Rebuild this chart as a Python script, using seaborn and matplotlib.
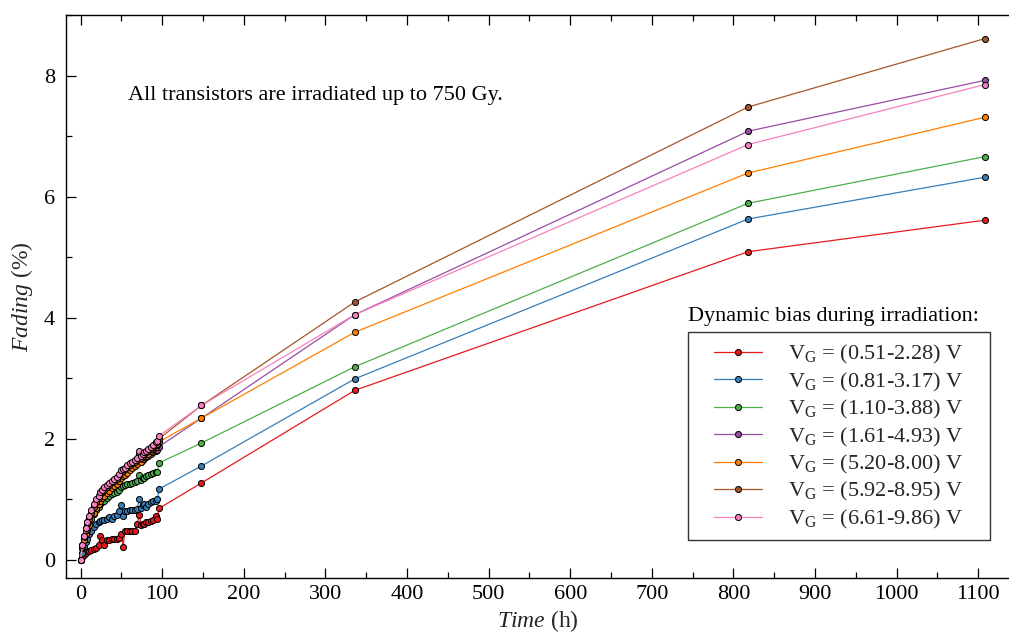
import numpy as np
import pandas as pd
import matplotlib
matplotlib.use("Agg")
import matplotlib.pyplot as plt
import seaborn as sns
from matplotlib.ticker import MultipleLocator
from matplotlib.patches import Rectangle

# ---- data ----
t_early = [0, 2, 4, 6, 8, 10, 13, 16, 19, 22, 24, 26, 29, 32, 35, 38, 41, 44, 47, 50,
           52, 54, 57, 60, 63, 66, 69, 72, 74, 76, 78, 80, 83, 86, 89, 92, 94, 96]
t_late = [148, 336, 818, 1108]
time_h = t_early + t_late

labels = ["0.51-2.28", "0.81-3.17", "1.10-3.88", "1.61-4.93",
          "5.20-8.00", "5.92-8.95", "6.61-9.86"]

red = [0, 0.05, 0.08, 0.12, 0.14, 0.15, 0.17, 0.18, 0.20, 0.25, 0.40, 0.33, 0.25, 0.33, 0.33,
       0.34, 0.35, 0.35, 0.36, 0.42, 0.22, 0.47, 0.47, 0.47, 0.48, 0.48, 0.60, 0.74, 0.58,
       0.60, 0.60, 0.62, 0.62, 0.64, 0.66, 0.72, 0.68, 0.85,
       1.27, 2.80, 5.09, 5.61]
blue = [0, 0.12, 0.22, 0.30, 0.35, 0.42, 0.48, 0.55, 0.60, 0.62, 0.64, 0.66, 0.66, 0.68, 0.70,
        0.68, 0.72, 0.74, 0.80, 0.90, 0.72, 0.80, 0.80, 0.82, 0.82, 0.82, 0.84, 1.00, 0.86,
        0.90, 0.92, 0.88, 0.92, 0.96, 0.98, 0.98, 1.00, 1.17,
        1.55, 2.99, 5.63, 6.32]
green = [0, 0.20, 0.35, 0.45, 0.55, 0.60, 0.68, 0.75, 0.82, 0.88, 0.92, 0.95, 0.98, 1.02, 1.05,
         1.08, 1.10, 1.12, 1.15, 1.20, 1.22, 1.24, 1.25, 1.26, 1.27, 1.28, 1.30, 1.40, 1.32,
         1.35, 1.36, 1.38, 1.40, 1.42, 1.43, 1.45, 1.45, 1.60,
         1.93, 3.19, 5.89, 6.66]
purple = [0, 0.25, 0.40, 0.52, 0.62, 0.70, 0.80, 0.90, 0.98, 1.05, 1.10, 1.15, 1.18, 1.20, 1.22,
          1.25, 1.28, 1.32, 1.38, 1.45, 1.46, 1.48, 1.50, 1.52, 1.55, 1.57, 1.60, 1.70, 1.62,
          1.65, 1.68, 1.70, 1.72, 1.75, 1.78, 1.80, 1.82, 1.87,
          2.34, 4.05, 7.08, 7.92]
orange = [0, 0.20, 0.32, 0.42, 0.50, 0.58, 0.68, 0.78, 0.86, 0.92, 0.98, 1.02, 1.06, 1.10, 1.14,
          1.18, 1.22, 1.26, 1.30, 1.35, 1.38, 1.40, 1.44, 1.48, 1.52, 1.55, 1.58, 1.65, 1.62,
          1.66, 1.70, 1.72, 1.75, 1.80, 1.83, 1.86, 1.90, 1.95,
          2.34, 3.76, 6.39, 7.31]
brown = [0, 0.22, 0.38, 0.50, 0.60, 0.68, 0.78, 0.88, 0.96, 1.02, 1.08, 1.12, 1.16, 1.20, 1.24,
         1.28, 1.30, 1.34, 1.40, 1.45, 1.47, 1.50, 1.53, 1.56, 1.60, 1.62, 1.65, 1.75, 1.68,
         1.72, 1.75, 1.78, 1.80, 1.83, 1.86, 1.90, 1.92, 2.00,
         2.55, 4.26, 7.48, 8.61]
pink = [0, 0.24, 0.40, 0.52, 0.62, 0.72, 0.82, 0.92, 1.00, 1.06, 1.12, 1.16, 1.20, 1.24, 1.27,
        1.30, 1.33, 1.37, 1.42, 1.48, 1.50, 1.52, 1.56, 1.60, 1.62, 1.65, 1.68, 1.80, 1.72,
        1.75, 1.78, 1.80, 1.83, 1.86, 1.90, 1.94, 1.97, 2.05,
        2.55, 4.05, 6.86, 7.85]

series = [red, blue, green, purple, orange, brown, pink]
colors = ["#e41a1c", "#377eb8", "#4daf4a", "#984ea3", "#ff7f00", "#a65628", "#f781bf"]

# ---- style ----
sns.set_theme(style="ticks")
plt.rcParams["font.family"] = ["Liberation Serif", "DejaVu Serif"]
plt.rcParams["mathtext.fontset"] = "custom"
plt.rcParams["mathtext.rm"] = "Liberation Serif"
plt.rcParams["mathtext.it"] = "Liberation Serif:italic"
plt.rcParams["mathtext.bf"] = "Liberation Serif:bold"

W, H = 1009, 633
fig = plt.figure(figsize=(W / 100, H / 100), dpi=100)
ax_l, ax_r, ax_t, ax_b = 66, 1010, 15, 578
ax = fig.add_axes([ax_l / W, 1 - ax_b / H, (ax_r - ax_l) / W, (ax_b - ax_t) / H])


def axc(px, py):
    return ((px - ax_l) / (ax_r - ax_l), (ax_b - py) / (ax_b - ax_t))


for vals, lab, col in zip(series, labels, colors):
    df = pd.DataFrame({"Time": time_h, "Fading": vals})
    sns.lineplot(data=df, x="Time", y="Fading", ax=ax, color=col, lw=0.9,
                 marker="o", markersize=4.4, markeredgecolor="black",
                 markeredgewidth=0.7, sort=False, estimator=None,
                 label=r"V$_\mathrm{G}$ = (" + lab + ") V")

ax.set_xlim(-18, 1139)
ax.set_ylim(-0.3, 9.0)
ax.xaxis.set_major_locator(MultipleLocator(100))
ax.xaxis.set_minor_locator(MultipleLocator(50))
ax.yaxis.set_major_locator(MultipleLocator(2))
ax.yaxis.set_minor_locator(MultipleLocator(1))
ax.tick_params(which="both", direction="in", top=True, right=False, labelsize=16,
               colors="black", width=0.9)
ax.tick_params(which="major", length=7)
ax.tick_params(which="minor", length=4)
ax.tick_params(axis="x", which="major", pad=5)
ax.tick_params(axis="y", which="major", pad=8)
for s in ax.spines.values():
    s.set_color("black")
    s.set_linewidth(1.0)
ax.spines["right"].set_visible(False)

ax.set_xlabel(r"$\mathit{Time}$ (h)", fontsize=17, labelpad=3)
ax.set_ylabel(r"$\mathit{Fading}$ (%)", fontsize=17, labelpad=6)

ax.text(57.5, 7.67, "All transistors are irradiated up to 750 Gy.", fontsize=16,
        ha="left", va="center", color="black")

# legend (frame drawn separately, title sits above the frame)
fx0, fy0 = axc(688, 540)
fx1, fy1 = axc(990, 332)
ax.add_patch(Rectangle((fx0, fy0), fx1 - fx0, fy1 - fy0, transform=ax.transAxes,
                       facecolor="white", edgecolor="#333333", lw=1.0, zorder=4))
lx, ly = axc(714, 437)
leg = ax.legend(loc="center left", bbox_to_anchor=(lx, ly), borderaxespad=0,
                borderpad=0, fontsize=16, frameon=False, handlelength=2.16,
                handletextpad=1.15, labelspacing=0.2)
leg.set_zorder(5)
tx, ty = axc(833, 317)
ax.text(tx, ty, "Dynamic bias during irradiation:", transform=ax.transAxes,
        fontsize=16, ha="center", va="center", color="black", zorder=6)

fig.savefig("out.png", dpi=100)
